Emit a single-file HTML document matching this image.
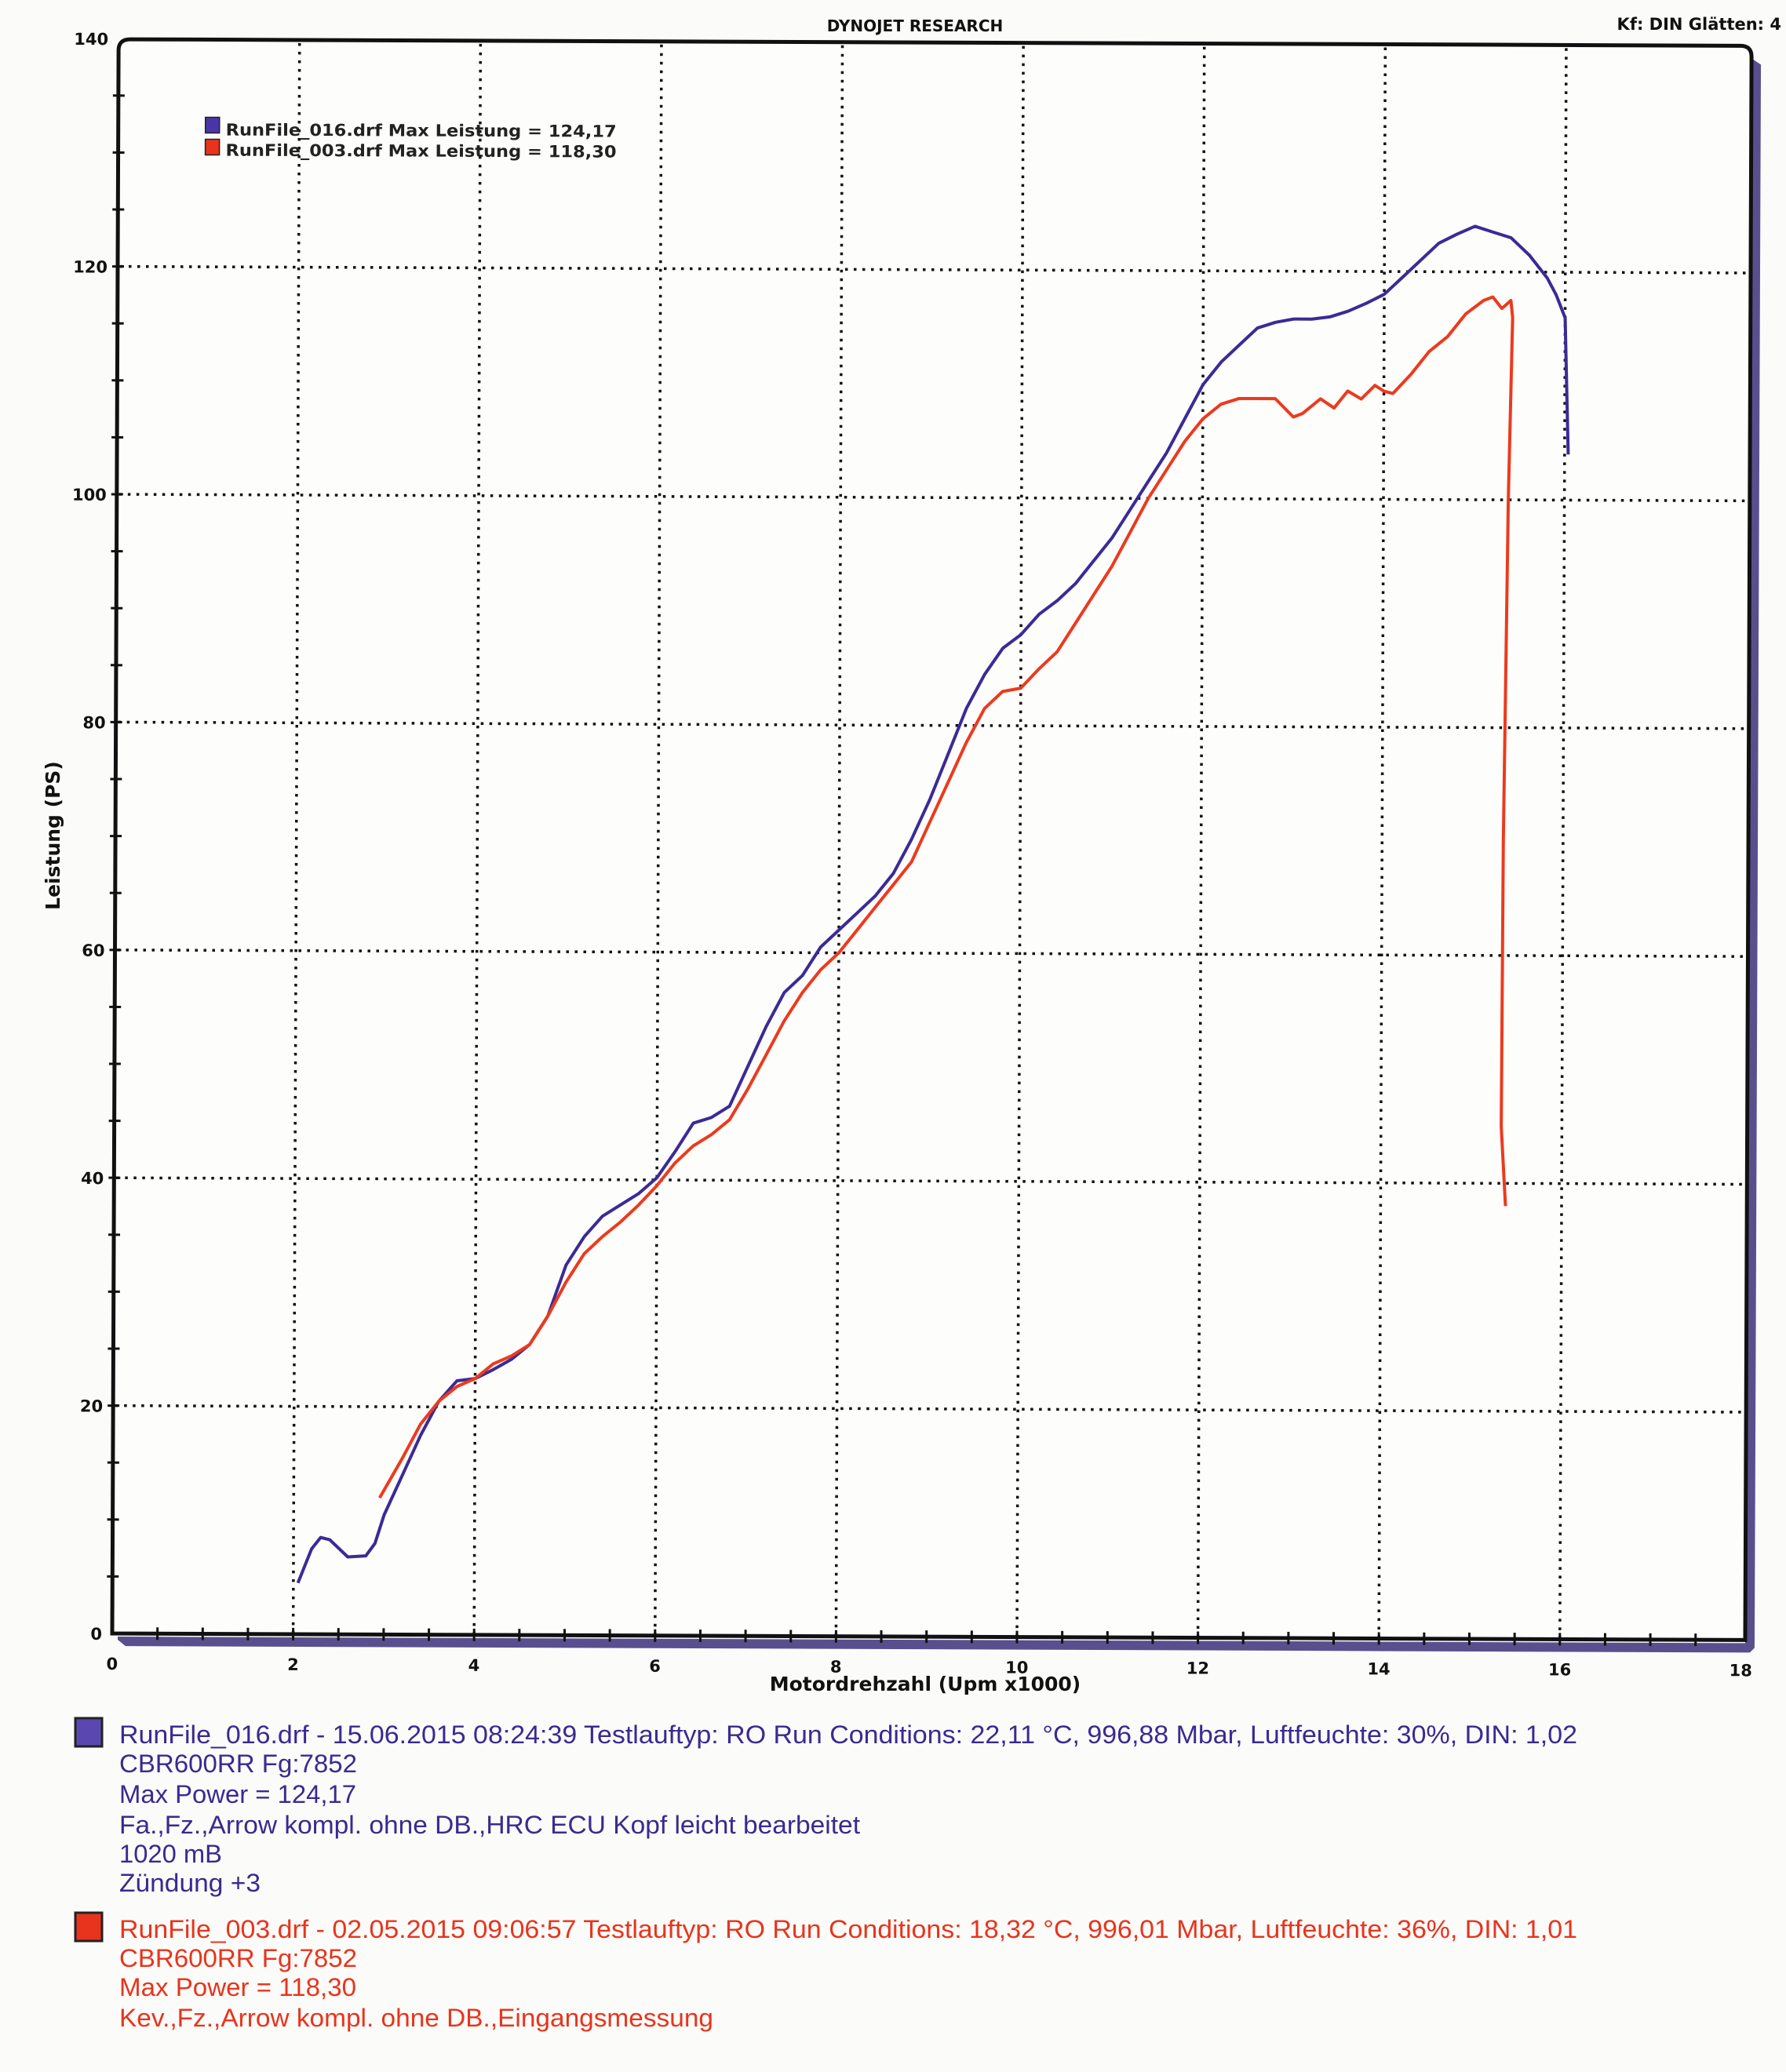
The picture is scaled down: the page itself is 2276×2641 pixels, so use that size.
<!DOCTYPE html>
<html><head><meta charset="utf-8"><style>
html,body{margin:0;padding:0;background:#fbfbf9;}
svg{display:block}
</style></head><body>
<svg id="s" width="2276" height="2641" viewBox="0 0 2276 2641" xmlns="http://www.w3.org/2000/svg">
<rect width="2276" height="2641" fill="#fbfbf9"/>
<text x="1166" y="40" font-family="DejaVu Sans, sans-serif" font-weight="bold" font-size="20" text-anchor="middle" fill="#111">DYNOJET RESEARCH</text>
<text x="2270" y="38" font-family="DejaVu Sans, sans-serif" font-weight="bold" font-size="21" text-anchor="end" fill="#111">Kf: DIN  Glätten: 4</text>
<g id="plot" transform="rotate(0.23 143 2082)">
 <path d="M2224 66 L2236 74 L2236 2092 L2230 2098 L160 2098 L150 2090 L150 2086 L2224 2086 Z" fill="#5a4f8e"/>
 <path d="M158 50 L2210 50 Q2224 50 2224 64 L2224 2082 L143 2082 L143 64 Q143 50 158 50 Z" fill="#fdfdfb" stroke="#111" stroke-width="5"/>
 <g id="grid" stroke="#111" stroke-width="3.5" stroke-dasharray="3.5 7.5" fill="none"></g>
 <g id="ticks" stroke="#111" stroke-width="3"></g>
 <g id="labels" font-family="DejaVu Sans, sans-serif" font-weight="bold" font-size="21" fill="#111"></g>
 <path id="blue" fill="none" stroke="#3b2a96" stroke-width="4" stroke-linejoin="round"/>
 <path id="red" fill="none" stroke="#ec3a1e" stroke-width="4" stroke-linejoin="round"/>
 <rect x="254" y="149" width="18" height="20" fill="#4a35a8" stroke="#222" stroke-width="1.5"/>
 <rect x="254" y="177" width="18" height="20" fill="#e8341c" stroke="#222" stroke-width="1.5"/>
 <text x="280" y="172" font-family="DejaVu Sans, sans-serif" font-weight="bold" font-size="21" fill="#222" textLength="498" lengthAdjust="spacingAndGlyphs">RunFile_016.drf Max Leistung = 124,17</text>
 <text x="280" y="198" font-family="DejaVu Sans, sans-serif" font-weight="bold" font-size="21" fill="#222" textLength="498" lengthAdjust="spacingAndGlyphs">RunFile_003.drf Max Leistung = 118,30</text>
</g>
<text x="1179" y="2155" font-family="DejaVu Sans, sans-serif" font-weight="bold" font-size="25" text-anchor="middle" fill="#111">Motordrehzahl (Upm x1000)</text>
<text transform="translate(76 1065) rotate(-90)" font-family="DejaVu Sans, sans-serif" font-weight="bold" font-size="25" text-anchor="middle" fill="#111">Leistung (PS)</text>
<g font-family="Liberation Sans, Arial, sans-serif" font-size="32">
 <rect x="96" y="2190" width="34" height="36" fill="#5a48b0" stroke="#222" stroke-width="3"/>
 <g fill="#3a2a90">
 <text x="152" y="2222" textLength="1858" lengthAdjust="spacingAndGlyphs">RunFile_016.drf - 15.06.2015 08:24:39  Testlauftyp: RO  Run Conditions: 22,11 °C, 996,88 Mbar,  Luftfeuchte: 30%, DIN: 1,02</text>
 <text x="152" y="2259" textLength="303" lengthAdjust="spacingAndGlyphs">CBR600RR Fg:7852</text>
 <text x="152" y="2298" textLength="302" lengthAdjust="spacingAndGlyphs">Max Power = 124,17</text>
 <text x="152" y="2337" textLength="944" lengthAdjust="spacingAndGlyphs">Fa.,Fz.,Arrow kompl. ohne DB.,HRC ECU Kopf leicht bearbeitet</text>
 <text x="152" y="2374" textLength="131" lengthAdjust="spacingAndGlyphs">1020 mB</text>
 <text x="152" y="2411" textLength="180" lengthAdjust="spacingAndGlyphs">Zündung +3</text>
 </g>
 <rect x="96" y="2438" width="34" height="36" fill="#e8341c" stroke="#222" stroke-width="3"/>
 <g fill="#e8341c">
 <text x="152" y="2470" textLength="1858" lengthAdjust="spacingAndGlyphs">RunFile_003.drf - 02.05.2015 09:06:57  Testlauftyp: RO  Run Conditions: 18,32 °C, 996,01 Mbar,  Luftfeuchte: 36%, DIN: 1,01</text>
 <text x="152" y="2507" textLength="303" lengthAdjust="spacingAndGlyphs">CBR600RR Fg:7852</text>
 <text x="152" y="2544" textLength="302" lengthAdjust="spacingAndGlyphs">Max Power = 118,30</text>
 <text x="152" y="2583" textLength="757" lengthAdjust="spacingAndGlyphs">Kev.,Fz.,Arrow kompl. ohne DB.,Eingangsmessung</text>
 </g>
</g>
</svg>
<script>
(function(){
var NS="http://www.w3.org/2000/svg";
function X(k){return 143+115.3*k;}
function Y(p){return 2082-14.52*p;}
function el(t,a,p){var e=document.createElementNS(NS,t);for(var k in a)e.setAttribute(k,a[k]);p.appendChild(e);return e;}
var g=document.getElementById('grid'),t=document.getElementById('ticks'),l=document.getElementById('labels');
for(var k=2;k<=16;k+=2){el('line',{x1:X(k),y1:54,x2:X(k),y2:2080},g);}
for(var p=20;p<=120;p+=20){el('line',{x1:146,y1:Y(p),x2:2222,y2:Y(p)},g);}
for(var k=0.5;k<18;k+=0.5){el('line',{x1:X(k),y1:2074,x2:X(k),y2:2090},t);}
for(var p=5;p<140;p+=5){el('line',{x1:136,y1:Y(p),x2:151,y2:Y(p)},t);}
for(var k=0;k<=18;k+=2){var e=el('text',{x:X(k),y:2128,'text-anchor':'middle'},l);e.textContent=k;}
for(var p=0;p<=140;p+=20){var e=el('text',{x:130,y:Y(p)+8,'text-anchor':'end'},l);e.textContent=p;}
var B=[[2.05,4.5],[2.2,7.5],[2.3,8.5],[2.4,8.3],[2.6,6.8],[2.8,6.9],[2.9,8],[3.0,10.5],[3.2,14],[3.4,17.5],[3.6,20.5],[3.8,22.3],[4.0,22.5],[4.2,23.3],[4.4,24.2],[4.6,25.5],[4.8,28],[5.0,32.5],[5.2,35],[5.4,36.8],[5.6,37.8],[5.8,38.8],[6.0,40.2],[6.2,42.5],[6.4,45],[6.6,45.5],[6.8,46.5],[7.0,50],[7.2,53.5],[7.4,56.5],[7.6,58],[7.8,60.5],[8.0,62],[8.2,63.5],[8.4,65],[8.6,67],[8.8,70],[9.0,73.5],[9.2,77.5],[9.4,81.5],[9.6,84.5],[9.8,86.8],[10.0,88],[10.2,89.8],[10.4,91],[10.6,92.5],[10.8,94.5],[11.0,96.5],[11.2,99],[11.4,101.5],[11.6,104],[11.8,107],[12.0,110],[12.2,112],[12.4,113.5],[12.6,115],[12.8,115.5],[13.0,115.8],[13.2,115.8],[13.4,116],[13.6,116.5],[13.8,117.2],[14.0,118],[14.2,119.5],[14.4,121],[14.6,122.5],[14.8,123.3],[15.0,124],[15.2,123.5],[15.4,123],[15.6,121.5],[15.8,119.5],[15.9,118],[16.0,116],[16.02,110],[16.04,104]];
var R=[[2.95,12],[3.2,15.5],[3.4,18.5],[3.6,20.5],[3.8,21.8],[4.0,22.5],[4.2,23.8],[4.4,24.5],[4.6,25.5],[4.8,28],[5.0,31],[5.2,33.5],[5.4,35],[5.6,36.3],[5.8,37.8],[6.0,39.5],[6.2,41.5],[6.4,43],[6.6,44],[6.8,45.3],[7.0,48],[7.2,51],[7.4,54],[7.6,56.5],[7.8,58.5],[8.0,60],[8.2,62],[8.4,64],[8.6,66],[8.8,68],[9.0,71.5],[9.2,75],[9.4,78.5],[9.6,81.5],[9.8,83],[10.0,83.3],[10.2,85],[10.4,86.5],[10.6,89],[10.8,91.5],[11.0,94],[11.2,97],[11.4,100],[11.6,102.5],[11.8,105],[12.0,107],[12.2,108.3],[12.4,108.8],[12.6,108.8],[12.8,108.8],[13.0,107.2],[13.1,107.5],[13.3,108.8],[13.45,108],[13.6,109.5],[13.75,108.8],[13.9,110],[14.0,109.5],[14.1,109.3],[14.3,111],[14.5,113],[14.7,114.3],[14.9,116.3],[15.1,117.5],[15.2,117.8],[15.3,116.8],[15.4,117.5],[15.42,116],[15.38,100],[15.34,70],[15.33,45],[15.38,38]];
function d(a){return a.map(function(q,i){return (i?'L':'M')+X(q[0]).toFixed(1)+' '+Y(q[1]).toFixed(1);}).join(' ');}
document.getElementById('blue').setAttribute('d',d(B));
document.getElementById('red').setAttribute('d',d(R));
})();
</script>
</body></html>
